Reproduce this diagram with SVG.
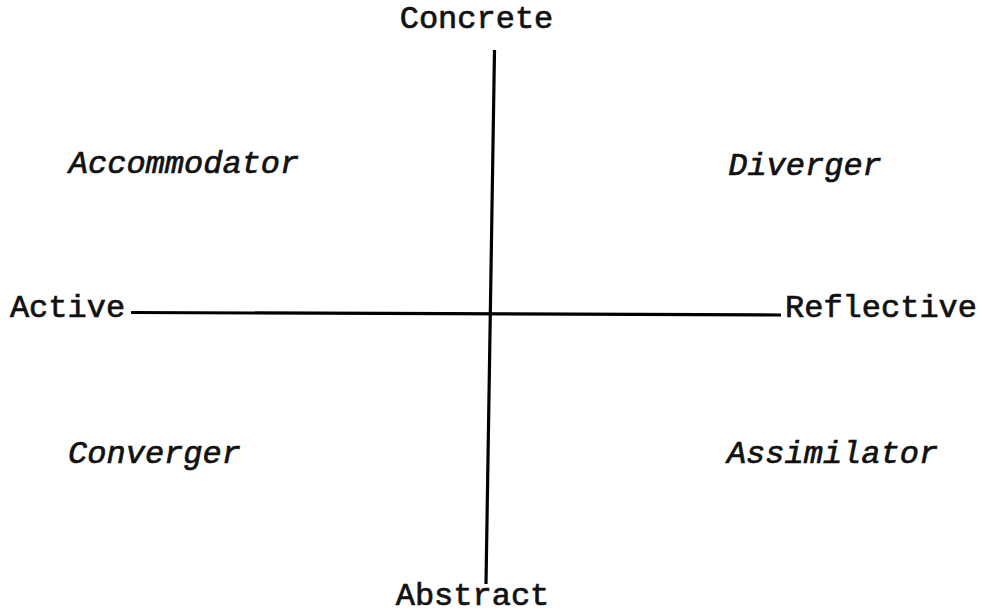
<svg xmlns="http://www.w3.org/2000/svg" width="982" height="614" viewBox="0 0 982 614">
<style>
.t{font-family:"Nimbus Mono PS","Courier New",Courier,"FreeMono","Liberation Mono",monospace;font-size:32px;font-weight:normal;fill:#111;stroke:#111;stroke-width:0.7;text-anchor:middle}
.i{font-style:italic}
.ax{stroke:#000;stroke-width:3.2;fill:none;stroke-linecap:butt}
</style>
<rect width="982" height="614" fill="#fff"/>
<g id="connectors">
<line class="ax" x1="131" y1="312.5" x2="781" y2="315"/>
<line class="ax" x1="494.5" y1="50" x2="486" y2="584"/>
</g>
<g id="concrete"><text class="t" x="476.5" y="28">Concrete</text></g>
<g id="abstract"><text class="t" x="472.5" y="605">Abstract</text></g>
<g id="active"><text class="t" x="67.5" y="317">Active</text></g>
<g id="reflective"><text class="t" x="881" y="317">Reflective</text></g>
<g id="accommodator"><text class="t i" x="184" y="173">Accommodator</text></g>
<g id="diverger"><text class="t i" x="805" y="175">Diverger</text></g>
<g id="converger"><text class="t i" x="154.5" y="463">Converger</text></g>
<g id="assimilator"><text class="t i" x="832.5" y="463">Assimilator</text></g>
</svg>
